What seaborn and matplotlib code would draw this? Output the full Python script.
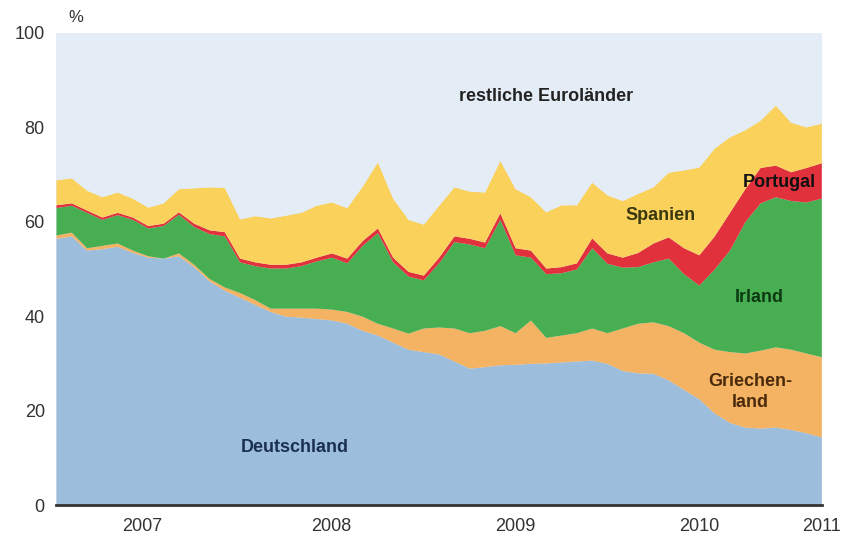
import numpy as np
import seaborn as sns
import matplotlib.pyplot as plt

# Monatswerte Jan 2007 - Mrz 2011, obere Kante jeder Schicht (kumuliert, %)
monate = np.arange(51)
deutschland = [56.5, 57, 54, 54.3, 54.8, 53.5, 52.5, 52.3, 52.8, 50.5, 47.5, 45.5,
               44, 42.5, 41, 40, 39.8, 39.5, 39.2, 38.5, 37, 36, 34.5, 33,
               32.5, 32, 30.5, 29, 29.3, 29.7, 29.8, 30, 30.1, 30.3, 30.5, 30.7,
               30, 28.5, 28, 27.9, 26.5, 24.5, 22.5, 19.5, 17.5, 16.5, 16.3, 16.5,
               16, 15.3, 14.4]
griechenland = [57.2, 57.8, 54.5, 55, 55.5, 54, 52.8, 52.3, 53.4, 51, 48, 46.2,
                45, 43.5, 41.7, 41.7, 41.7, 41.7, 41.5, 41, 40, 38.5, 37.5, 36.4,
                37.5, 37.7, 37.5, 36.5, 37, 38, 36.5, 39.2, 35.5, 36, 36.5, 37.5,
                36.5, 37.5, 38.5, 38.8, 38, 36.5, 34.5, 33, 32.5, 32.2, 32.8, 33.5,
                33, 32.2, 31.4]
irland = [63, 63.5, 62, 60.5, 61.5, 60.5, 58.7, 59.2, 61.6, 59, 57.5, 57,
          51.5, 50.7, 50.2, 50.2, 50.7, 51.7, 52.5, 51.3, 55, 57.7, 51.5, 48.5,
          47.7, 51.3, 55.8, 55.3, 54.5, 60.5, 53, 52.5, 49, 49.2, 50, 54.5,
          51.2, 50.4, 50.5, 51.5, 52.3, 49, 46.6, 50, 54, 60, 64, 65.3,
          64.5, 64.2, 65]
portugal = [63.6, 64, 62.5, 61, 62, 61, 59.2, 59.7, 62.1, 59.7, 58.3, 57.9,
            52.3, 51.5, 51, 51, 51.5, 52.5, 53.4, 52.3, 56, 58.7, 52.5, 49.5,
            48.7, 52.5, 57, 56.5, 55.7, 61.9, 54.5, 54, 50.2, 50.5, 51.3, 56.6,
            53.4, 52.5, 53.5, 55.5, 56.8, 54.5, 53, 57, 62, 67, 71.5, 72,
            70.6, 71.5, 72.5]
spanien = [68.9, 69.3, 66.7, 65.3, 66.3, 65, 63.1, 64, 67, 67.2, 67.4, 67.3,
           60.6, 61.3, 60.8, 61.4, 62, 63.5, 64.2, 63, 67.5, 72.7, 65, 60.5,
           59.5, 63.5, 67.4, 66.5, 66.3, 73, 67, 65.3, 62.1, 63.6, 63.6, 68.4,
           65.7, 64.5, 66, 67.4, 70.5, 71, 71.6, 75.6, 78, 79.5, 81.5, 84.7,
           81.1, 80.1, 80.9]
gesamt = [100] * 51

jahre = ["2007", "2008", "2009", "2010", "2011"]
laender = ["Deutschland", "Griechenland", "Irland", "Portugal", "Spanien",
           "restliche Euroländer"]
farben = ["#9dbddd", "#f4b363", "#48ae52", "#e1313d", "#fad15b", "#e4ecf6"]

x = 2007 + monate / 12
oben = np.array([deutschland, griechenland, irland, portugal, spanien, gesamt])
anteile = np.diff(np.vstack([np.zeros(51), oben]), axis=0)

sns.set_theme(style="white")
plt.rcParams["font.family"] = ["Liberation Sans", "DejaVu Sans"]

fig = plt.figure(figsize=(8.43, 5.40), dpi=100)
ax = fig.add_axes([0.0664, 0.0648, 0.9086, 0.8742])
ax.set_facecolor("#e4ecf6")
ax.stackplot(x, anteile, colors=farben, linewidth=0, zorder=1)
ax.axhline(80, color="white", lw=2, zorder=0.5)
ax.set_axisbelow(True)

ax.set_xlim(2007, 2007 + 50 / 12)
ax.set_ylim(0, 100)
ax.set_yticks(range(0, 101, 20))
ax.tick_params(axis="y", labelsize=13, colors="#333333", length=0, pad=8)

ax.set_xticks([2008, 2009, 2010, 2011])
ax.set_xticklabels([])
ax.tick_params(axis="x", which="major", direction="in", length=7, width=1.5,
               color="#333333")
ax.set_xticks([2007.47, 2008.5, 2009.5, 2010.5, 2011.17], minor=True)
ax.set_xticklabels(jahre, minor=True)
ax.tick_params(axis="x", which="minor", length=0, labelsize=13,
               labelcolor="#333333", pad=9)

for s in ["top", "right", "left"]:
    ax.spines[s].set_visible(False)
ax.spines["bottom"].set_color("#333333")
ax.spines["bottom"].set_linewidth(2)

fig.text(0.081, 0.968, "%", fontsize=12, color="#333333", ha="left", va="center")

beschr = [
    (2009.67, 86.5, "restliche Euroländer", "#222222"),
    (2010.29, 61.4, "Spanien", "#3b3810"),
    (2010.94, 68.4, "Portugal", "#111111"),
    (2010.83, 43.9, "Irland", "#0c3a12"),
    (2010.78, 24, "Griechen-\nland", "#4a2a0c"),
    (2008.30, 12.1, "Deutschland", "#1b3050"),
]
for bx, by, txt, col in beschr:
    ax.text(bx, by, txt, ha="center", va="center", fontsize=13,
            fontweight="bold", color=col, linespacing=1.3, zorder=3)

fig.savefig("out.png", dpi=100)
